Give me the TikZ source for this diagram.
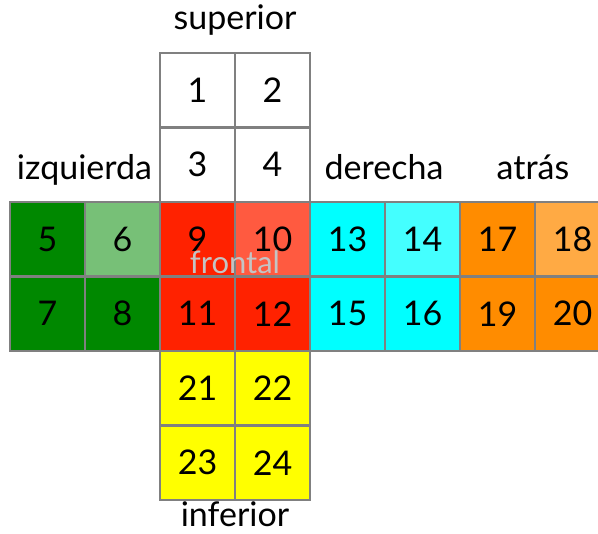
\documentclass[tikz,border=0pt]{standalone}
\usepackage{fontspec}
\setmainfont{Lato}
\definecolor{gdark}{HTML}{008800}
\definecolor{glight}{HTML}{77C077}
\definecolor{rdark}{HTML}{FF2200}
\definecolor{rlight}{HTML}{FF5A40}
\definecolor{cdark}{HTML}{00FFFF}
\definecolor{clight}{HTML}{44FFFF}
\definecolor{odark}{HTML}{FF8C00}
\definecolor{olight}{HTML}{FFAA44}
\definecolor{ylw}{HTML}{FFFF00}
\definecolor{edge}{HTML}{808080}
\definecolor{fronttxt}{HTML}{C4C4C4}
\tikzset{
  cell/.style={draw=edge, line width=2.2pt, minimum width=75pt, minimum height=74.5pt,
    inner sep=0pt, font=\fontsize{34}{40}\selectfont},
  facelabel/.style={anchor=base, inner sep=0pt, font=\fontsize{34}{41}\selectfont},
}
\begin{document}
\begin{tikzpicture}[x=1pt,y=-1pt]
\path[use as bounding box, clip] (0,0) rectangle (598,534);
% superior
\node[cell, fill=white] (c1) at (197.5,90.25) {1};
\node[cell, fill=white] (c2) at (272.5,90.25) {2};
\node[cell, fill=white] (c3) at (197.5,164.75) {3};
\node[cell, fill=white] (c4) at (272.5,164.75) {4};
% izquierda
\node[cell, fill=gdark] (c5) at (47.5,239.25) {5};
\node[cell, fill=glight] (c6) at (122.5,239.25) {6};
\node[cell, fill=gdark] (c7) at (47.5,313.75) {7};
\node[cell, fill=gdark] (c8) at (122.5,313.75) {8};
% frontal
\node[cell, fill=rdark] (c9) at (197.5,239.25) {9};
\node[cell, fill=rlight] (c10) at (272.5,239.25) {10};
\node[cell, fill=rdark] (c11) at (197.5,313.75) {11};
\node[cell, fill=rdark] (c12) at (272.5,313.75) {12};
% derecha
\node[cell, fill=cdark] (c13) at (347.5,239.25) {13};
\node[cell, fill=clight] (c14) at (422.5,239.25) {14};
\node[cell, fill=cdark] (c15) at (347.5,313.75) {15};
\node[cell, fill=cdark] (c16) at (422.5,313.75) {16};
% atras
\node[cell, fill=odark] (c17) at (497.5,239.25) {17};
\node[cell, fill=olight] (c18) at (572.5,239.25) {18};
\node[cell, fill=odark] (c19) at (497.5,313.75) {19};
\node[cell, fill=odark] (c20) at (572.5,313.75) {20};
% inferior
\node[cell, fill=ylw] (c21) at (197.5,388.25) {21};
\node[cell, fill=ylw] (c22) at (272.5,388.25) {22};
\node[cell, fill=ylw] (c23) at (197.5,462.75) {23};
\node[cell, fill=ylw] (c24) at (272.5,462.75) {24};
% labels
\node[facelabel] (lsup) at (235,30) {superior};
\node[facelabel] (lizq) at (84.5,180) {izquierda};
\node[facelabel] (lder) at (384,180) {derecha};
\node[facelabel] (latr) at (533,180) {atrás};
\node[facelabel] (linf) at (235,527) {inferior};
\node[facelabel, text=fronttxt, font=\fontsize{31}{37}\selectfont] (lfro) at (235,274) {frontal};
\end{tikzpicture}
\end{document}
